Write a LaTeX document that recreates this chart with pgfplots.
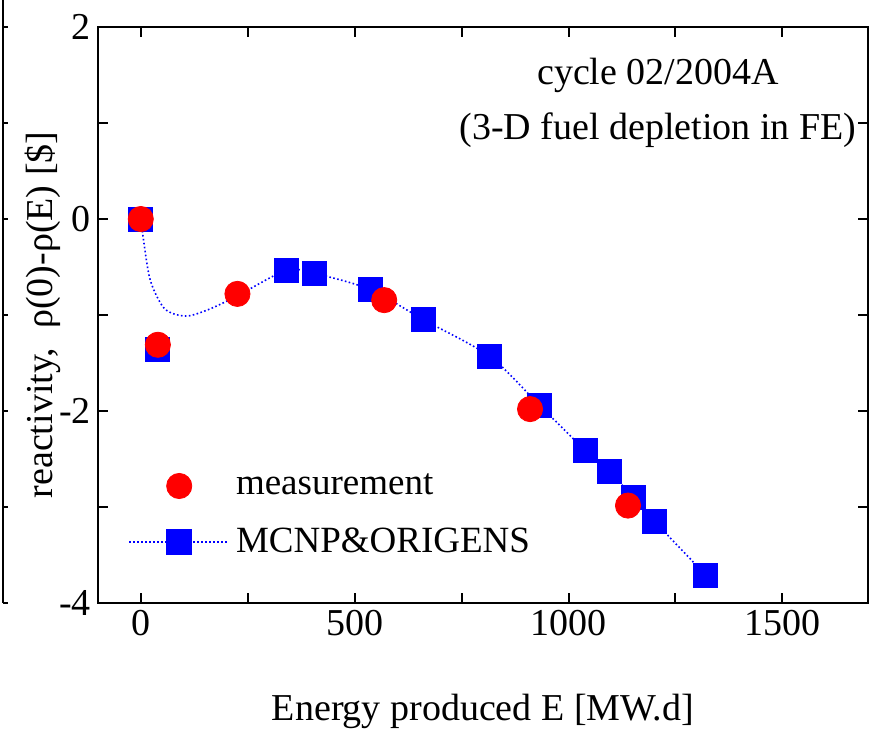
\documentclass[border=0pt]{standalone}
\usepackage{fontspec}
\setmainfont{Liberation Serif}
\usepackage{pgfplots}
\pgfplotsset{compat=1.18}
\begin{document}
\begin{tikzpicture}[font=\rmfamily]
\path[use as bounding box] (-49pt,-66.5pt) rectangle (385.5pt,301.5pt);
\draw[line width=1pt] (-47.5pt,0pt) -- (-47.5pt,301.5pt);
\foreach \y in {0,48,96,144,192,240,288} \draw[line width=0.8pt] (-47.5pt,\y pt) -- (-45pt,\y pt);
\begin{axis}[
  at={(0,0)}, anchor=south west,
  scale only axis, width=385pt, height=288pt,
  xmin=-100, xmax=1700, ymin=-4, ymax=2,
  xtick={0,500,1000,1500}, minor xtick={250,750,1250},
  ytick={-4,-2,0,2}, minor ytick={-3,-1,1},
  tick align=inside, major tick length=5pt, minor tick length=5pt,
  axis line style={line width=1.2pt},
  tick style={line width=1pt, black},
  /pgf/number format/assume math mode=true,
  /pgf/number format/1000 sep={},
  ticklabel style={font=\rmfamily\fontsize{19}{22}\selectfont},
  label style={font=\rmfamily\fontsize{19}{22}\selectfont},
  xlabel={Energy produced E [MW.d]},
  xlabel style={at={(axis description cs:0.5,-0.189)}, anchor=center},
  ylabel={reactivity,\ \ ρ(0)-ρ(E) [\$]},
  ylabel style={at={(axis description cs:-0.0714,0.5)}, anchor=center},
  legend style={at={(axis description cs:0.039,0.228)}, anchor=north west,
    draw=none, fill=none, inner sep=0pt, row sep=13pt,
    font=\rmfamily\fontsize{18.5}{22}\selectfont, nodes={inner sep=1pt},
    /tikz/every even column/.append style={column sep=0pt}},
  legend cell align=left,
  legend image code/.code={\draw[mark repeat=2, mark phase=2, #1] plot coordinates {(0pt,0pt) (25pt,0pt) (49pt,0pt)}; \path (52pt,0pt);},
]
\addlegendimage{only marks, red, mark=*, mark size=6.3pt}
\addlegendentry{measurement}
\addlegendimage{blue, line width=0.8pt, dash pattern=on 0.8pt off 1.2pt, mark=square*, mark size=6pt, mark options={solid}}
\addlegendentry{MCNP\&ORIGENS}

\addplot[blue, line width=0.8pt, dash pattern=on 0.8pt off 1.2pt, smooth, forget plot] coordinates {
(0,0) (20,-0.6) (48,-0.89) (72,-0.98) (110,-1.01) (160,-0.94) (226,-0.80) (340,-0.535) (406,-0.567) (536,-0.734) (660,-1.047) (816,-1.433) (932,-1.94) (1039,-2.41) (1095,-2.63) (1151,-2.90) (1200,-3.145) (1321,-3.71)
};
\addplot[only marks, blue, mark=square*, mark size=6pt, forget plot] coordinates {
(0,0) (40,-1.36) (340,-0.535) (406,-0.567) (536,-0.734) (660,-1.047) (816,-1.433) (932,-1.94) (1039,-2.41) (1095,-2.63) (1151,-2.90) (1200,-3.145) (1321,-3.71)
};
\addplot[only marks, red, mark=*, mark size=6.3pt, forget plot] coordinates {
(0,0) (40,-1.31) (226,-0.78) (569,-0.845) (910,-1.98) (1139,-2.985)
};
\node[font=\rmfamily\fontsize{19}{22}\selectfont, anchor=center] at (axis cs:1209,1.5) {cycle 02/2004A};
\node[font=\rmfamily\fontsize{19}{22}\selectfont, anchor=center] at (axis cs:1209,0.93) {(3-D fuel depletion in FE)};
\end{axis}
\end{tikzpicture}
\end{document}
